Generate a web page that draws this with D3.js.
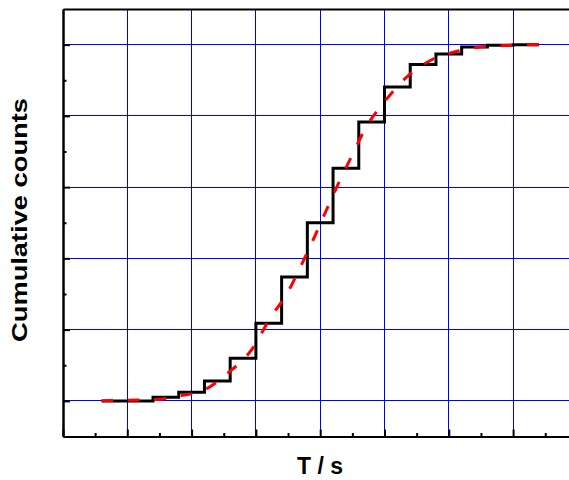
<!DOCTYPE html>
<html>
<head>
<meta charset="utf-8">
<script src="https://cdn.jsdelivr.net/npm/d3@7/dist/d3.min.js"></script>
<style>
  html, body { margin: 0; padding: 0; background: #fff; }
  svg { display: block; }
  text { font-family: "Liberation Sans", Arial, Helvetica, sans-serif; font-weight: bold; fill: #000; }
</style>
</head>
<body>
<svg id="chart" width="569" height="480"></svg>
<script>
// Cumulative counts: step edges (T / s) and the count reached at each edge
const binEdges  = [0.6, 1.0, 1.4, 1.8, 2.2, 2.6, 3.0, 3.4, 3.8, 4.2, 4.6, 5.0, 5.4, 5.8, 6.2, 6.6, 7.0, 7.4];
const cumCounts = [0,   0,   1.0, 2.4, 5.6, 12.0, 21.8, 34.8, 50.0, 65.3, 78.3, 88.1, 94.4, 97.4, 99.3, 99.8, 100, 100];

// Fitted sigmoid through the cumulative counts
const fitT      = [0.6, 1.0, 1.48, 1.79, 2.19, 2.57, 2.94, 3.23, 3.48, 3.70, 3.92, 4.09, 4.28, 4.49, 4.71, 5.01, 5.37, 5.75, 6.14, 6.52, 6.95, 7.4];
const fitCounts = [0,   0.2, 0.4,  1.3,  3.0,  7.9,  14.5, 23.5, 30.0, 37.9, 46.4, 53.3, 60.9, 68.7, 76.7, 84.2, 91.3, 95.9, 98.2, 99.4, 99.8, 100];

// Axis tick positions
const xMajorTicks = [0, 1, 2, 3, 4, 5, 6, 7, 8];
const xMinorTicks = [0.5, 1.5, 2.5, 3.5, 4.5, 5.5, 6.5, 7.5];
const xGridTicks  = [1, 2, 3, 4, 5, 6, 7];
const yMajorTicks = [0, 20, 40, 60, 80, 100];
const yMinorTicks = [10, 30, 50, 70, 90];

const xLabel = "T / s";
const yLabel = "Cumulative counts";

const svg = d3.select("#chart");
const plotLeft = 63, plotTop = 9, plotBottom = 436.5, plotRight = 63 + 64.3 * 8;

const x = d3.scaleLinear().domain([0, 8]).range([plotLeft, plotRight]);
const y = d3.scaleLinear().domain([-10, 110]).range([plotBottom, plotTop]);

svg.append("rect").attr("width", 569).attr("height", 480).attr("fill", "#fff");

// Grid
const grid = svg.append("g").attr("shape-rendering", "crispEdges")
  .attr("stroke", "#0000ff").attr("stroke-width", 1);
grid.selectAll("line.v").data(xGridTicks).join("line").attr("class", "v")
  .attr("x1", d => x(d)).attr("x2", d => x(d)).attr("y1", plotTop).attr("y2", plotBottom);
grid.selectAll("line.h").data(yMajorTicks).join("line").attr("class", "h")
  .attr("x1", plotLeft).attr("x2", plotRight).attr("y1", d => y(d)).attr("y2", d => y(d));

// Axes with inward ticks
function styleAxis(g) {
  g.selectAll("path, line").attr("stroke", "#000").attr("stroke-width", 2);
  g.selectAll("text").remove();
}
svg.append("g").attr("transform", `translate(0,${plotBottom})`)
  .call(d3.axisBottom(x).tickValues(xMajorTicks).tickSize(-7).tickSizeOuter(0).tickFormat(""))
  .call(styleAxis);
svg.append("g").attr("transform", `translate(0,${plotBottom})`)
  .call(d3.axisBottom(x).tickValues(xMinorTicks).tickSize(-3.5).tickSizeOuter(0).tickFormat(""))
  .call(styleAxis);
svg.append("g").attr("transform", `translate(${plotLeft},0)`)
  .call(d3.axisLeft(y).tickValues(yMajorTicks).tickSize(-7).tickSizeOuter(0).tickFormat(""))
  .call(styleAxis);
svg.append("g").attr("transform", `translate(${plotLeft},0)`)
  .call(d3.axisLeft(y).tickValues(yMinorTicks).tickSize(-3.5).tickSizeOuter(0).tickFormat(""))
  .call(styleAxis);
svg.append("g").attr("transform", `translate(0,${plotTop})`)
  .call(d3.axisTop(x).tickValues([]).tickSizeOuter(0))
  .call(styleAxis);
svg.append("g").attr("transform", `translate(${plotRight},0)`)
  .call(d3.axisRight(y).tickValues([]).tickSizeOuter(0))
  .call(styleAxis);

// Cumulative step line (black)
const stepLine = d3.line().x((d, i) => x(binEdges[i])).y(d => y(d)).curve(d3.curveStepAfter);
svg.append("path").datum(cumCounts)
  .attr("d", stepLine)
  .attr("fill", "none").attr("stroke", "#000").attr("stroke-width", 3)
  .attr("stroke-linejoin", "miter");

// Fitted curve (red dashed), drawn over the steps
const fitLine = d3.line().x((d, i) => x(fitT[i])).y(d => y(d)).curve(d3.curveMonotoneX);
svg.append("path").datum(fitCounts)
  .attr("d", fitLine)
  .attr("fill", "none").attr("stroke", "#ff0000").attr("stroke-width", 3)
  .attr("stroke-dasharray", "11.5,15");

// Axis titles
svg.append("text")
  .attr("x", 320).attr("y", 474)
  .attr("text-anchor", "middle").attr("font-size", 23)
  .text(xLabel);
svg.append("text")
  .attr("transform", "translate(27,220) rotate(-90)")
  .attr("text-anchor", "middle").attr("font-size", 22)
  .attr("textLength", 244).attr("lengthAdjust", "spacingAndGlyphs")
  .text(yLabel);
</script>
</body>
</html>
